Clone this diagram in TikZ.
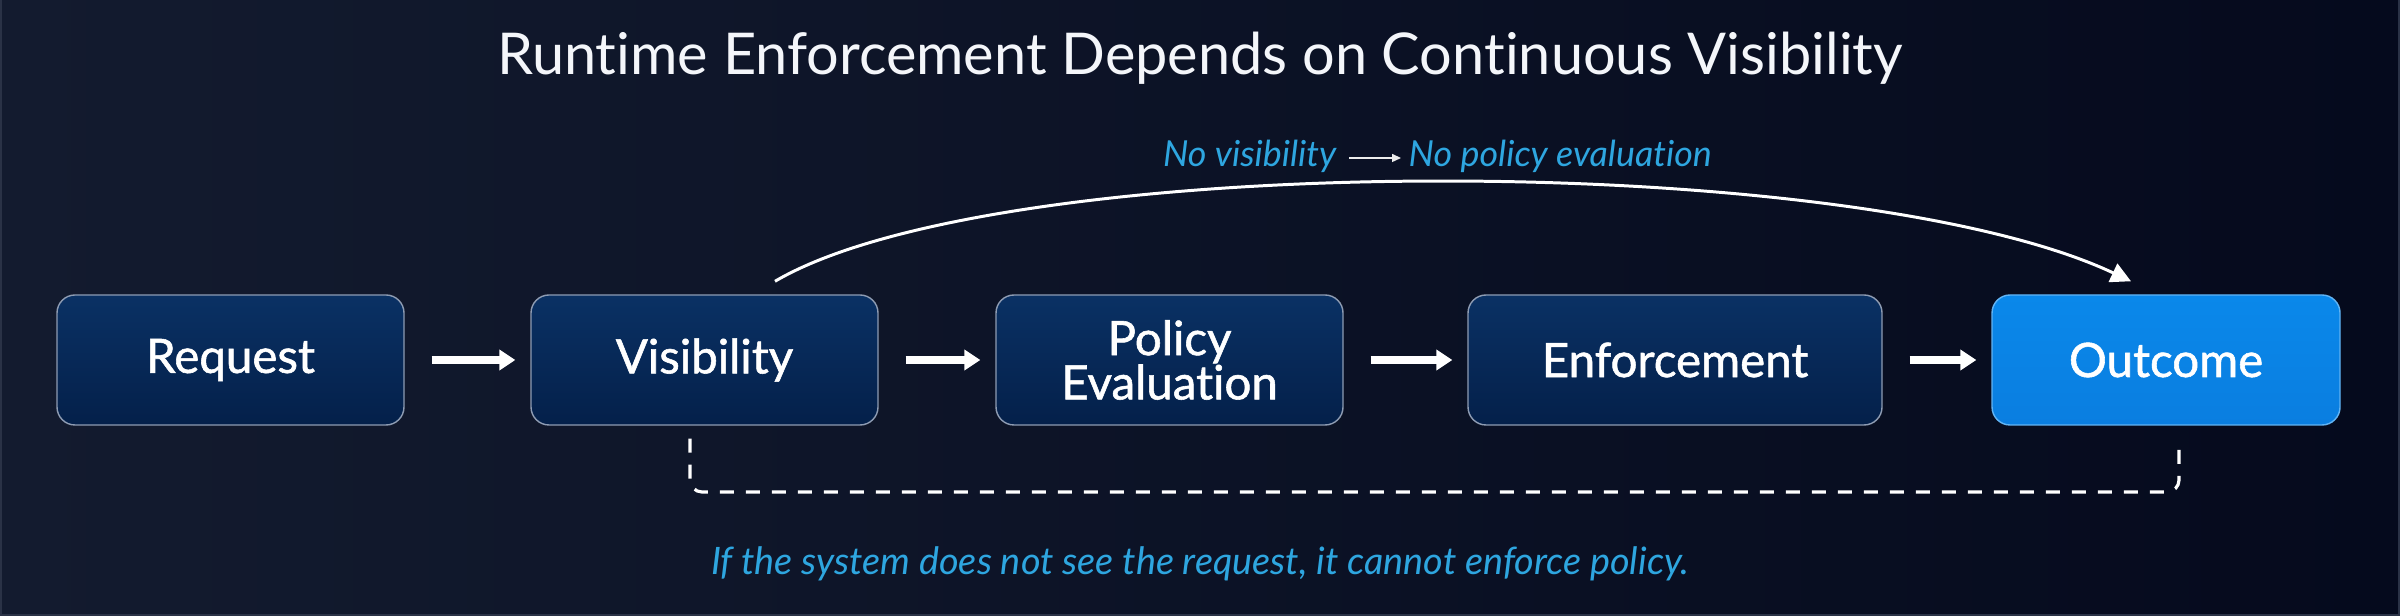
\documentclass[tikz,border=0pt]{standalone}
\usepackage{fontspec}
\setmainfont{Lato}[Ligatures={NoCommon}]
\newfontfamily\boxfont{Lato}[FakeBold=1.2, Ligatures={NoCommon}]
\usetikzlibrary{arrows.meta,calc}
\definecolor{bgL}{HTML}{131B2F}
\definecolor{bgR}{HTML}{050A1D}
\definecolor{frameline}{HTML}{2A3246}
\definecolor{boxtop}{HTML}{0A3164}
\definecolor{boxbot}{HTML}{04204A}
\definecolor{boxline}{HTML}{8E9CB3}
\definecolor{outtop}{HTML}{0A88EA}
\definecolor{outbot}{HTML}{0A7EE0}
\definecolor{outline}{HTML}{62B4F4}
\definecolor{labblue}{HTML}{2EA6E0}
\definecolor{titlecol}{HTML}{F4F6FA}
\tikzset{
  stepbox/.style={draw=boxline, line width=0.4pt, rounded corners=0.18cm,
    minimum height=1.3cm, top color=boxtop, bottom color=boxbot,
    text=white, inner sep=0pt, align=center,
    font=\boxfont\fontsize{13.5}{12.6}\selectfont},
  outbox/.style={stepbox, draw=outline, top color=outtop, bottom color=outbot},
  flowarrow/.style={draw=white, line width=2pt,
    -{Triangle[length=0.16cm,width=0.2cm]},
    shorten <=0.27cm, shorten >=0.15cm},
  curvearrow/.style={draw=white, line width=0.85pt,
    -{Triangle[length=0.2cm,width=0.2cm]}},
  dashline/.style={draw=white, line width=0.9pt, dash pattern=on 0.14cm off 0.12cm,
    rounded corners=0.12cm},
  lab/.style={text=labblue, inner sep=0pt,
    font=\itshape\fontsize{10.2}{12}\selectfont},
  thinarrow/.style={draw=white!85!gray, line width=0.4pt,
    -{Triangle[length=0.09cm,width=0.08cm]}},
  titlestyle/.style={text=titlecol, inner sep=0pt, font=\fontsize{16.4}{19}\selectfont}
}
\begin{document}
\begin{tikzpicture}
\shade[left color=bgL, right color=bgR] (0,0) rectangle (24,-6.16);
\useasboundingbox (0,0) rectangle (24,-6.16);
\draw[frameline, line width=0.4pt] (0.01,0) -- (0.01,-6.15) -- (23.99,-6.15) -- (23.99,0);

\node[titlestyle, anchor=base] (title) at (12.0,-0.75) {Runtime Enforcement Depends on Continuous Visibility};

\node[stepbox, minimum width=3.47cm] (req) at (2.305,-3.60) {Request};
\node[stepbox, minimum width=3.47cm] (vis) at (7.045,-3.60) {Visibility};
\node[stepbox, minimum width=3.47cm] (pol) at (11.695,-3.60) {Policy\\Evaluation};
\node[stepbox, minimum width=4.14cm] (enf) at (16.75,-3.60) {Enforcement};
\node[outbox, minimum width=3.48cm] (out) at (21.66,-3.60) {Outcome};

\draw[flowarrow] (req) -- (vis);
\draw[flowarrow] (vis) -- (pol);
\draw[flowarrow] (pol) -- (enf);
\draw[flowarrow] (enf) -- (out);

\coordinate (cs) at ($(vis.north)+(0.705,0.13)$);
\coordinate (ce) at ($(out.north)+(-0.35,0.13)$);
\draw[curvearrow] (cs) .. controls (10.0,-1.49) and (18.5,-1.49) .. (ce);

\node[lab, anchor=base east] (nv) at (13.37,-1.67) {No visibility};
\node[lab, anchor=base west] (np) at (14.08,-1.67) {No policy evaluation};
\draw[thinarrow] ($(nv.base east)+(0.12,0.09)$) -- ($(np.base west)+(-0.07,0.09)$);

\coordinate (dA) at ($(vis.south)+(-0.145,-0.13)$);
\coordinate (dB) at ($(out.south)+(0.13,-0.13)$);
\coordinate (lv) at (0,-4.92);
\draw[dashline] (dA) -- (dA |- lv) -- (dB |- lv) -- (dB);

\node[lab, anchor=base, font=\itshape\fontsize{10.75}{12}\selectfont] (note) at (12.0,-5.75) {If the system does not see the request, it cannot enforce policy.};
\end{tikzpicture}
\end{document}
